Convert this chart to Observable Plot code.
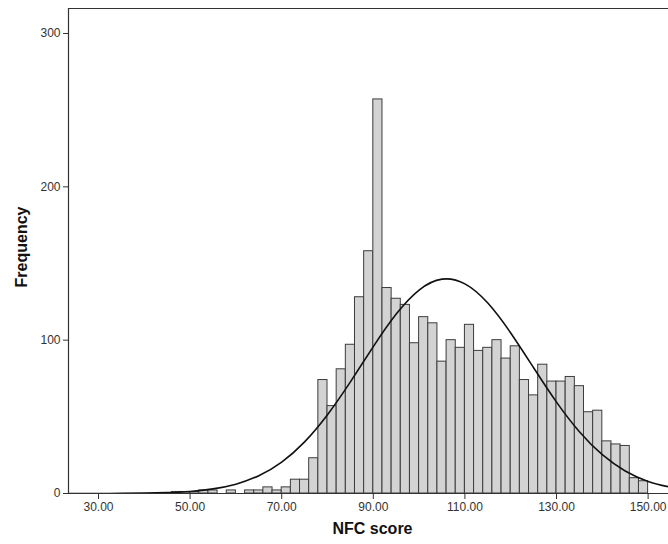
<!DOCTYPE html>
<html>
<head>
<meta charset="utf-8">
<script src="https://cdn.jsdelivr.net/npm/d3@7"></script>
<script src="https://cdn.jsdelivr.net/npm/@observablehq/plot@0.6"></script>
<style>
  html, body { margin: 0; padding: 0; background: #fff; overflow: hidden; }
</style>
</head>
<body>
<div id="chart"></div>
<script>
// Histogram bins (lower edge, width 2) and frequencies
const binStart = [46, 48, 50, 52, 54, 56, 58, 60, 62, 64, 66, 68, 70, 72, 74, 76, 78, 80, 82, 84, 86, 88, 90, 92, 94, 96, 98, 100, 102, 104, 106, 108, 110, 112, 114, 116, 118, 120, 122, 124, 126, 128, 130, 132, 134, 136, 138, 140, 142, 144, 146, 148];
const counts   = [1, 1, 1, 2, 2, 0, 2, 0, 2, 2, 4, 2, 4, 9, 9, 23, 74, 57, 81, 97, 128, 158, 257, 134, 127, 123, 98, 115, 111, 86, 100, 95, 110, 93, 95, 100, 88, 96, 74, 64, 84, 73, 73, 76, 70, 53, 54, 34, 32, 31, 10, 8];
const binWidth = 2;

// Normal curve overlay
const curveX = [20, 25, 30, 35, 40, 45, 50, 55, 60, 65, 70, 75, 80, 85, 90, 95, 100, 105, 110, 115, 120, 125, 130, 135, 140, 145, 150, 155];
const curveY = [0, 0.01, 0.03, 0.08, 0.22, 0.57, 1.3, 3.0, 6.1, 11.6, 20.5, 33.7, 51.4, 72.8, 95.8, 117, 132.7, 139.8, 136.7, 124.2, 104.7, 82, 59.6, 40.3, 25.3, 14.7, 7.9, 4.0];

// Axis ticks
const xTicks = [30, 50, 70, 90, 110, 130, 150];
const yTicks = [0, 100, 200, 300];
const xTitle = "NFC score";
const yTitle = "Frequency";

const bins = binStart.map((x, i) => ({x1: x, x2: x + binWidth, count: counts[i]})).filter(d => d.count > 0);
const curve = curveX.map((x, i) => ({x, y: curveY[i]}));

const xMin = 23.45, xMax = 154.45, yMax = 316.3;

const chart = Plot.plot({
  width: 668,
  height: 544,
  marginLeft: 68,
  marginRight: 0,
  marginTop: 8,
  marginBottom: 51,
  x: {domain: [xMin, xMax]},
  y: {domain: [0, yMax]},
  style: {fontFamily: "'Liberation Sans', Arial, sans-serif", fontSize: "12px", color: "#333", background: "#fff"},
  marks: [
    Plot.rectY(bins, {x1: "x1", x2: "x2", y: "count", fill: "#d3d3d3", stroke: "#3c3c3c", strokeWidth: 1, inset: 0}),
    Plot.line(curve, {x: "x", y: "y", curve: "natural", stroke: "#111", strokeWidth: 1.6, clip: true}),
    Plot.ruleY([0], {stroke: "#333", strokeWidth: 1.2}),
    Plot.ruleY([yMax], {stroke: "#333", strokeWidth: 1.2}),
    Plot.ruleX([xMin], {stroke: "#333", strokeWidth: 1.2}),
    Plot.axisX({ticks: xTicks, tickFormat: d => d.toFixed(2), tickSize: 6, tickPadding: 3, label: null, fontSize: 12}),
    Plot.axisY({ticks: yTicks, tickSize: 5, tickPadding: 3, label: null, fontSize: 12}),
    Plot.text([xTitle], {text: d => d, frameAnchor: "bottom", textAnchor: "middle", lineAnchor: "middle", dy: 35, dx: 4, fontWeight: "bold", fontSize: 16, fill: "#111"}),
    Plot.text([yTitle], {text: d => d, frameAnchor: "left", textAnchor: "middle", lineAnchor: "middle", dx: -47, dy: -4, rotate: -90, fontWeight: "bold", fontSize: 16, fill: "#111"})
  ]
});
document.getElementById("chart").appendChild(chart);
</script>
</body>
</html>
